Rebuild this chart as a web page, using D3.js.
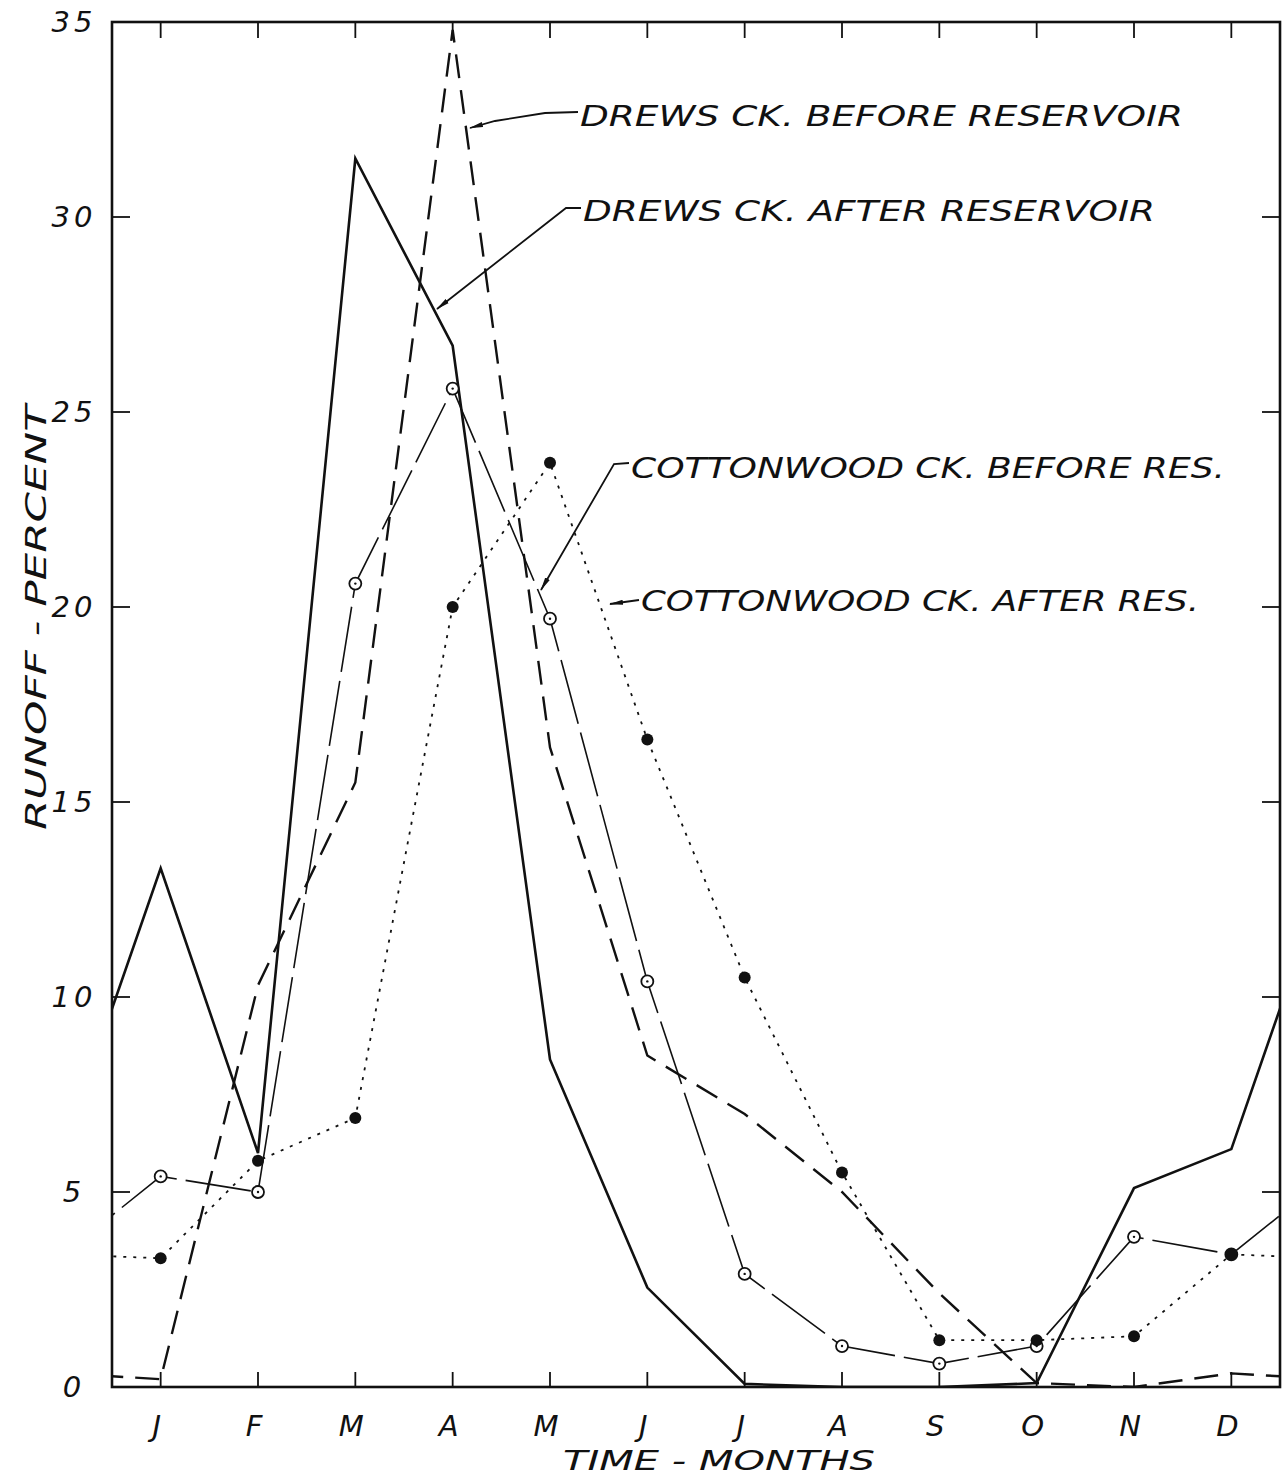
<!DOCTYPE html>
<html>
<head>
<meta charset="utf-8">
<script src="https://cdn.jsdelivr.net/npm/d3@7"></script>
<style>
  body { margin: 0; background: #fff; }
  svg text { font-family: 'DejaVu Sans', sans-serif; font-style: italic; fill: #111; }
</style>
</head>
<body>
<svg class="chart" width="1288" height="1478"></svg>
<script>
const months = ['J', 'F', 'M', 'A', 'M', 'J', 'J', 'A', 'S', 'O', 'N', 'D'];
const yTickValue = [0, 5, 10, 15, 20, 25, 30, 35];

// runoff, percent of yearly total
const drewsBefore = [0.2, 10.3, 15.5, 34.8, 16.4, 8.5, 7.0, 5.0, 2.4, 0.1, 0.0, 0.35];
const drewsAfter = [13.3, 6.0, 31.5, 26.7, 8.4, 2.55, 0.08, 0.0, 0.0, 0.1, 5.1, 6.1];
const cottonBefore = [5.4, 5.0, 20.6, 25.6, 19.7, 10.4, 2.9, 1.05, 0.6, 1.05, 3.85, 3.4];
const cottonAfter = [3.3, 5.8, 6.9, 20.0, 23.7, 16.6, 10.5, 5.5, 1.2, 1.2, 1.3, 3.4];

const labels = [
  { text: 'DREWS CK. BEFORE RESERVOIR', x: 580, y: 126, len: 603, leader: [[578, 112], [545, 113], [495, 121], [470, 128]] },
  { text: 'DREWS CK. AFTER RESERVOIR', x: 583, y: 221, len: 572, leader: [[581, 208], [566, 208], [437, 309]] },
  { text: 'COTTONWOOD CK. BEFORE RES.', x: 631, y: 478, len: 594, leader: [[629, 463], [614, 464], [541, 590]] },
  { text: 'COTTONWOOD CK. AFTER RES.', x: 641, y: 611, len: 558, leader: [[639, 600], [610, 604]] }
];

const chart = d3.select('.chart');
const plotLeft = 112, plotRight = 1280, plotTop = 22, plotBottom = 1387;

const xScale = d3.scaleLinear().domain([-0.5, 11.5]).range([plotLeft, plotRight]);
const yScale = d3.scaleLinear().domain([0, 35]).range([plotBottom, plotTop]);

const defs = chart.append('defs');

defs.append('clipPath')
  .attr('id', 'plot-clip')
  .append('rect')
  .attr('x', plotLeft)
  .attr('y', plotTop - 2)
  .attr('width', plotRight - plotLeft)
  .attr('height', plotBottom - plotTop + 2);

defs.append('marker')
  .attr('id', 'arrow')
  .attr('viewBox', '0 -3 14 6')
  .attr('refX', 13)
  .attr('refY', 0)
  .attr('markerWidth', 14)
  .attr('markerHeight', 6)
  .attr('markerUnits', 'userSpaceOnUse')
  .attr('orient', 'auto')
  .append('path')
  .attr('d', 'M0,-2.6 L14,0 L0,2.6 Z')
  .attr('fill', '#111');

// wrap the year round: previous December left of J, next January right of D
const wrapped = arr => {
  const pts = arr.map((v, i) => [i, v]);
  return [[-1, arr[11]]].concat(pts, [[12, arr[0]]]);
};

const line = d3.line()
  .x(d => xScale(d[0]))
  .y(d => yScale(d[1]));

const lineGroup = chart.append('g').attr('clip-path', 'url(#plot-clip)');

const series = [
  { data: drewsBefore, width: 2.4, dash: '24,12' },
  { data: drewsAfter, width: 2.6, dash: null },
  { data: cottonBefore, width: 1.6, dash: '66,9' },
  { data: cottonAfter, width: 1.8, dash: '3,7' }
];

series.forEach(s => {
  lineGroup.append('path')
    .attr('d', line(wrapped(s.data)))
    .attr('fill', 'none')
    .attr('stroke', '#111')
    .attr('stroke-width', s.width)
    .attr('stroke-dasharray', s.dash);
});

// open circles
const openGroup = chart.append('g')
  .selectAll('g')
  .data(cottonBefore)
  .enter()
  .append('g')
  .attr('transform', (d, i) => `translate(${xScale(i)}, ${yScale(d)})`);

openGroup.append('circle')
  .attr('r', 6)
  .attr('fill', '#fff')
  .attr('stroke', '#111')
  .attr('stroke-width', 1.8);

openGroup.append('circle')
  .attr('r', 1.2)
  .attr('fill', '#111');

chart.append('g')
  .selectAll('circle')
  .data(cottonAfter)
  .enter()
  .append('circle')
  .attr('cx', (d, i) => xScale(i))
  .attr('cy', d => yScale(d))
  .attr('r', 6)
  .attr('fill', '#111');

/*
 ** Frame and ticks
 */
chart.append('rect')
  .attr('x', plotLeft)
  .attr('y', plotTop)
  .attr('width', plotRight - plotLeft)
  .attr('height', plotBottom - plotTop)
  .attr('fill', 'none')
  .attr('stroke', '#111')
  .attr('stroke-width', 2.6);

const monthIdx = d3.range(12);

chart.append('g')
  .attr('class', 'x-ticks')
  .selectAll('line')
  .data(monthIdx.concat(monthIdx))
  .enter()
  .append('line')
  .attr('x1', d => xScale(d))
  .attr('x2', d => xScale(d))
  .attr('y1', (d, i) => i < 12 ? plotBottom : plotTop)
  .attr('y2', (d, i) => i < 12 ? plotBottom - 15 : plotTop + 16)
  .attr('stroke', '#111')
  .attr('stroke-width', 1.8);

chart.append('g')
  .attr('class', 'y-ticks')
  .selectAll('line')
  .data(yTickValue.concat(yTickValue))
  .enter()
  .append('line')
  .attr('x1', (d, i) => i < 8 ? plotLeft : plotRight)
  .attr('x2', (d, i) => i < 8 ? plotLeft + 18 : plotRight - 18)
  .attr('y1', d => yScale(d))
  .attr('y2', d => yScale(d))
  .attr('stroke', '#111')
  .attr('stroke-width', 1.8);

chart.append('g')
  .selectAll('text')
  .data(yTickValue)
  .enter()
  .append('text')
  .text(d => d)
  .attr('x', 74)
  .attr('y', d => yScale(d) + 10)
  .attr('text-anchor', 'middle')
  .attr('font-size', 29)
  .attr('letter-spacing', 4);

chart.append('g')
  .selectAll('text')
  .data(months)
  .enter()
  .append('text')
  .text(d => d)
  .attr('x', (d, i) => xScale(i) - 4)
  .attr('y', 1436)
  .attr('text-anchor', 'middle')
  .attr('font-size', 29);

chart.append('text')
  .text('TIME - MONTHS')
  .attr('x', 563)
  .attr('y', 1470)
  .attr('font-size', 27)
  .attr('textLength', 312)
  .attr('lengthAdjust', 'spacingAndGlyphs');

chart.append('text')
  .text('RUNOFF - PERCENT')
  .attr('transform', 'translate(46, 830) rotate(-90)')
  .attr('font-size', 28)
  .attr('textLength', 425)
  .attr('lengthAdjust', 'spacingAndGlyphs');

/*
 ** Callouts
 */
const callout = chart.append('g').selectAll('g')
  .data(labels)
  .enter()
  .append('g');

callout.append('path')
  .attr('d', d => d3.line()(d.leader))
  .attr('fill', 'none')
  .attr('stroke', '#111')
  .attr('stroke-width', 1.8)
  .attr('marker-end', 'url(#arrow)');

callout.append('text')
  .text(d => d.text)
  .attr('x', d => d.x)
  .attr('y', d => d.y)
  .attr('font-size', 29)
  .attr('textLength', d => d.len)
  .attr('lengthAdjust', 'spacingAndGlyphs');
</script>
</body>
</html>
